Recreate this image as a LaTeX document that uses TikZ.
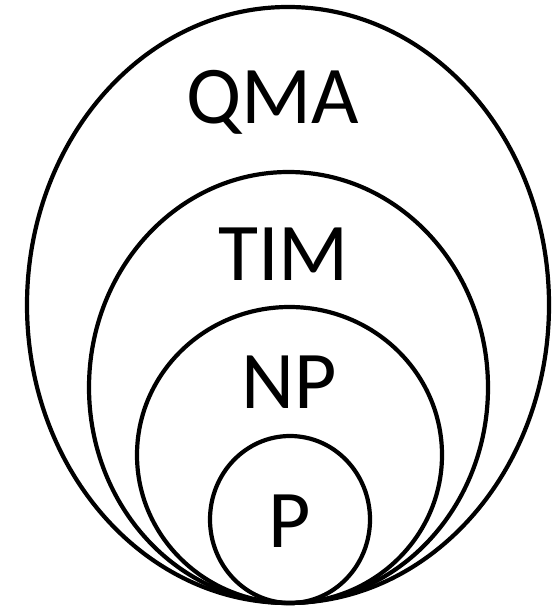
\documentclass[tikz,border=0pt]{standalone}
\usepackage{fontspec}
\setmainfont{Carlito}
\begin{document}
\begin{tikzpicture}[x=1pt,y=-1pt,line width=4.2pt,
    kelas/.style={anchor=base,inner sep=0pt,font=\fontsize{82}{86}\selectfont}]
    \useasboundingbox (0,0) rectangle (553,612);
    % Elips bersarang, menyinggung di bawah
    \draw (288,305) ellipse [x radius=261,y radius=298];
    \draw (288.5,387.5) ellipse [x radius=199.5,y radius=215.5];
    \draw (289.5,455) ellipse [x radius=152.5,y radius=148];
    \draw (290,519.5) ellipse [x radius=80,y radius=83.5];

    % Label kelas
    \node[kelas] (qma) at (272.5,124) {QMA};
    \node[kelas] (tim) at (283.5,280) {TIM};
    \node[kelas] (np) at (289,408) {NP};
    \node[kelas] (p) at (290,547) {P};
  \end{tikzpicture}
\end{document}
